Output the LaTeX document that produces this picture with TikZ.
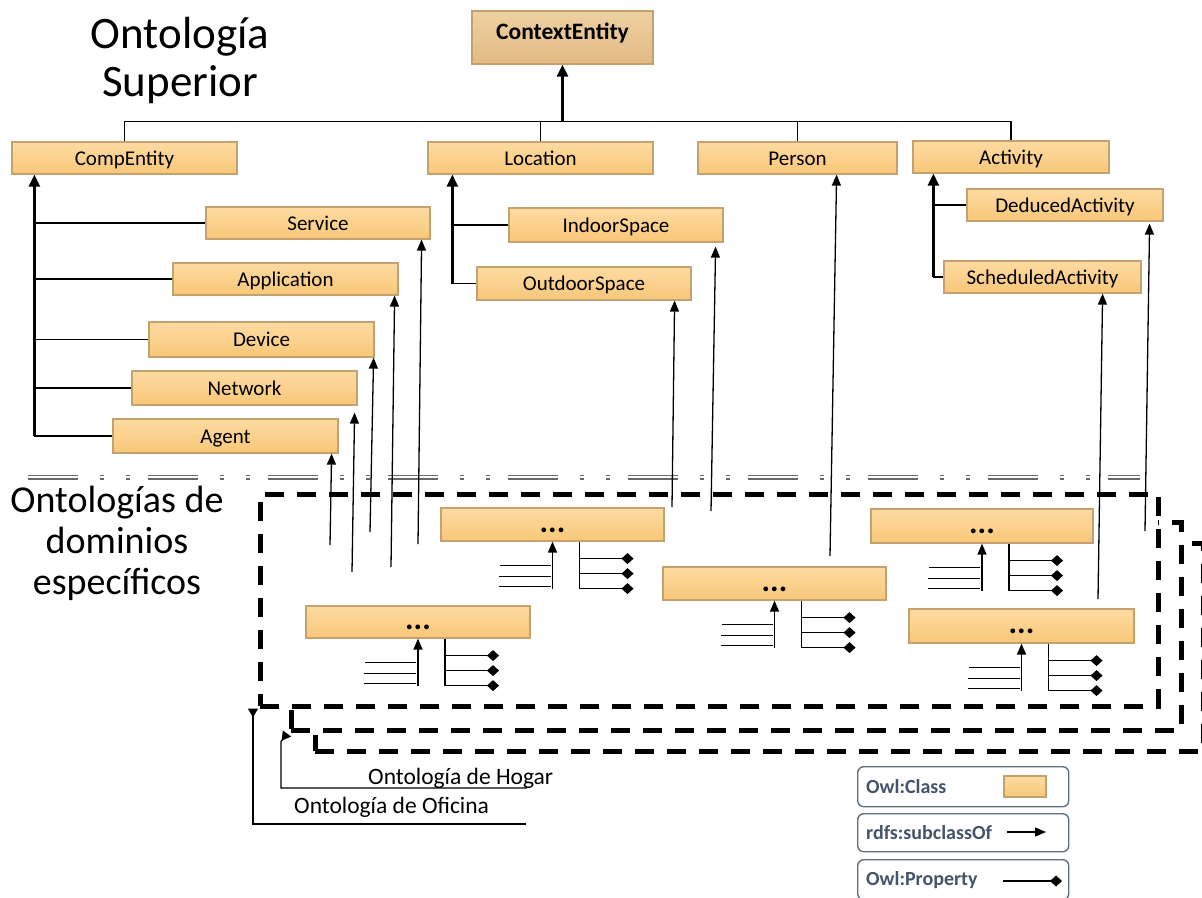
\documentclass[tikz,border=0pt]{standalone}
\usepackage{fontspec}
\setmainfont{Carlito}
\usetikzlibrary{arrows.meta,calc}
\definecolor{clsTop}{RGB}{253,219,162}
\definecolor{clsBot}{RGB}{248,199,120}
\definecolor{clsEdge}{RGB}{196,162,112}
\definecolor{rootTop}{RGB}{238,208,162}
\definecolor{rootBot}{RGB}{226,186,130}
\definecolor{legendInk}{RGB}{68,84,106}
\definecolor{sepGray}{RGB}{105,105,105}
\begin{document}
\begin{tikzpicture}[x=1pt,y=-1pt,
  cls/.style={draw=clsEdge, line width=1.2, top color=clsTop, bottom color=clsBot,
    inner sep=0, text height=18, text depth=4, font=\fontsize{21}{24}\selectfont},
  root/.style={cls, top color=rootTop, bottom color=rootBot, text height=10, text depth=6.4,
    font=\fontsize{23.5}{26}\selectfont\bfseries},
  dom/.style={cls, text height=15, text depth=0, font=\fontsize{32}{32}\selectfont\bfseries},
  link/.style={line width=1.5},
  trunk/.style={line width=2.4, -{Triangle[length=12pt,width=11pt]}},
  sub/.style={line width=1.3, -{Triangle[length=11pt,width=9pt]}},
  prop/.style={line width=1.3, -{Diamond[length=12pt,width=11pt]}},
  frame/.style={draw=black, line width=4.5, dash pattern=on 19pt off 13pt, fill=white, inner sep=0},
  sepline/.style={sepGray, line width=1.8, dash pattern=on 50pt off 22pt on 4pt off 22pt on 4pt off 18pt},
  tag/.style={line width=1.3, {Triangle[reversed,length=9pt,width=10pt]}-},
  legbox/.style={draw=legendInk!85, line width=1.4, rounded corners=6pt, fill=white, inner sep=0},
  legtext/.style={text=legendInk, font=\fontsize{20}{22}\selectfont\bfseries, anchor=west, inner sep=0},
  big/.style={font=\fontsize{45}{48}\selectfont, align=center, inner sep=0},
  mid/.style={font=\fontsize{38}{41}\selectfont, align=center, inner sep=0},
  small/.style={font=\fontsize{23.5}{26}\selectfont, inner sep=0}]
\useasboundingbox (0,0) rectangle (1202,897);

% section titles
\node[big] (upper) at (180,61) {Ontología\\Superior};
\node[mid] (domains) at (117,543) {Ontologías de\\dominios\\específicos};

% separator between upper and domain ontologies
\draw[sepline] (28,475.5) -- (1140,475.5);
\draw[sepline] (28,479) -- (1140,479);

% stacked domain ontology frames
\node[frame, minimum width=888, minimum height=208, anchor=north west] (f3) at (313,541) {};
\node[frame, minimum width=890, minimum height=208, anchor=north west] (f2) at (289,520) {};
\node[frame, minimum width=898, minimum height=212, anchor=north west] (f1) at (258,492) {};

% upper ontology classes
\node[root, minimum width=181, minimum height=53] (ctx) at (562.5,37.5) {ContextEntity};
\node[cls, minimum width=225, minimum height=32] (comp) at (124.5,158) {CompEntity};
\node[cls, minimum width=225, minimum height=32] (loc) at (540.5,158) {Location};
\node[cls, minimum width=199, minimum height=32] (person) at (797.5,158) {Person};
\node[cls, minimum width=196, minimum height=32] (activity) at (1011,157) {Activity};

\node[cls, minimum width=224, minimum height=32] (service) at (318,223) {Service};
\node[cls, minimum width=225, minimum height=32] (app) at (285.5,279) {Application};
\node[cls, minimum width=225, minimum height=35] (device) at (261.5,339.5) {Device};
\node[cls, minimum width=225, minimum height=34] (network) at (244.5,388) {Network};
\node[cls, minimum width=225, minimum height=34] (agent) at (225.5,436) {Agent};

\node[cls, minimum width=214, minimum height=34] (indoor) at (616,225) {IndoorSpace};
\node[cls, minimum width=214, minimum height=33] (outdoor) at (584,283.5) {OutdoorSpace};

\node[cls, minimum width=196, minimum height=32] (deduced) at (1065,205) {DeducedActivity};
\node[cls, minimum width=197, minimum height=32] (sched) at (1042.5,277) {ScheduledActivity};

% root hierarchy
\coordinate (bus) at ($(ctx.south)+(0,57)$);
\draw[link] (comp.north) |- (bus) -| (activity.north);
\draw[link] (loc.north) -- (loc.north |- bus);
\draw[link] (person.north) -- (person.north |- bus);
\draw[trunk] (bus) -- (ctx.south);

% CompEntity subclasses
\coordinate (ct) at ($(comp.south west)+(23,0)$);
\foreach \c in {service,app,device,network,agent}
  \draw[link] (\c.west) -- (\c.west -| ct);
\draw[trunk] (agent.west -| ct) -- (ct);

% Location subclasses
\coordinate (lt) at ($(loc.south west)+(25,0)$);
\foreach \c in {indoor,outdoor}
  \draw[link] (\c.west) -- (\c.west -| lt);
\draw[trunk] (outdoor.west -| lt) -- (lt);

% Activity subclasses
\coordinate (actk) at ($(activity.south west)+(21,0)$);
\foreach \c in {deduced,sched}
  \draw[link] (\c.west) -- (\c.west -| actk);
\draw[trunk] (sched.west -| actk) -- (actk);

% domain ontology classes
\node[dom, minimum width=223, minimum height=33] (b1) at (552.5,524.5) {...};
\node[dom, minimum width=224, minimum height=32] (b2) at (418,622) {...};
\node[dom, minimum width=223, minimum height=33] (b3) at (774.5,583.5) {...};
\node[dom, minimum width=222, minimum height=34] (b4) at (982,526) {...};
\node[dom, minimum width=225, minimum height=34] (b5) at (1021.5,626) {...};

\foreach \b in {b1,b2,b3,b4,b5}{
  % inherited subclass links
  \draw[line width=1.3] ($(\b.south)+(-53,24)$) -- ($(\b.south)+(-2,24)$);
  \draw[line width=1.3] ($(\b.south)+(-54,35)$) -- ($(\b.south)+(-2,35)$);
  \draw[line width=1.3] ($(\b.south)+(-54,45)$) -- ($(\b.south)+(-2,45)$);
  \draw[sub] ($(\b.south)+(0,47)$) -- (\b.south);
  % properties
  \draw[prop] ($(\b.south)+(27,0)$) |- ($(\b.south)+(81,47)$);
  \draw[prop] ($(\b.south)+(27,17)$) -- ($(\b.south)+(81,17)$);
  \draw[prop] ($(\b.south)+(27,32)$) -- ($(\b.south)+(81,32)$);
}

% links from the domain ontologies up to the upper ontology
\coordinate (dAgent) at (330,545);
\coordinate (dNetwork) at (352,572);
\coordinate (dDevice) at (370,532);
\coordinate (dApp) at (391,567);
\coordinate (dService) at (418,544);
\coordinate (dOutdoor) at (672,507);
\coordinate (dIndoor) at (711,511);
\coordinate (dPerson) at (830,556);
\coordinate (dSched) at (1098,599);
\coordinate (dDeduced) at (1145,531);
\draw[sub] (dAgent) -- ($(agent.south east)+(-7,0)$);
\draw[sub] (dNetwork) -- ($(network.south east)+(-3,7)$);
\draw[sub] (dDevice) -- ($(device.south east)+(-1,0)$);
\draw[sub] (dApp) -- ($(app.south east)+(-4,0)$);
\draw[sub] (dService) -- ($(service.south east)+(-9,0)$);
\draw[sub] (dOutdoor) -- ($(outdoor.south east)+(-17,0)$);
\draw[sub] (dIndoor) -- ($(indoor.south east)+(-8,4)$);
\draw[sub] (dPerson) -- ($(person.south east)+(-61,0)$);
\draw[sub] (dSched) -- ($(sched.south east)+(-39,0)$);
\draw[sub] (dDeduced) -- ($(deduced.south east)+(-14,2)$);

% frame captions
\node[small, anchor=base west] (hogar) at (368,784) {Ontología de Hogar};
\node[small, anchor=base west] (oficina) at (294,813) {Ontología de Oficina};
\coordinate (hogEnd) at (527,788);
\coordinate (ofiEnd) at (526,824);
\draw[tag] ($(f2.south west)+(-2,1)$) -- ($(f2.south west)+(-8,9)$) |- (hogEnd);
\draw[tag] ($(f1.south west)+(-5,0)$) |- (ofiEnd);

% legend
\node[legbox, minimum width=211, minimum height=40, anchor=north west] (lgClass) at (857,766) {};
\node[legbox, minimum width=211, minimum height=38, anchor=north west] (lgSub) at (857,813) {};
\node[legbox, minimum width=211, minimum height=40, anchor=north west] (lgProp) at (857,859) {};
\node[legtext] (lgClassT) at ($(lgClass.west)+(9,0)$) {Owl:Class};
\node[legtext] (lgSubT) at ($(lgSub.west)+(9,0)$) {rdfs:subclassOf};
\node[legtext] (lgPropT) at ($(lgProp.west)+(9,0)$) {Owl:Property};
\node[cls, minimum width=42, minimum height=21, text height=0, text depth=0] (swatch) at (1025,786.5) {};
\coordinate (subA) at (1007,832);
\coordinate (subB) at (1046,832);
\coordinate (propA) at (1003,881);
\coordinate (propB) at (1062,881);
\draw[sub] (subA) -- (subB);
\draw[prop] (propA) -- (propB);
\end{tikzpicture}
\end{document}
